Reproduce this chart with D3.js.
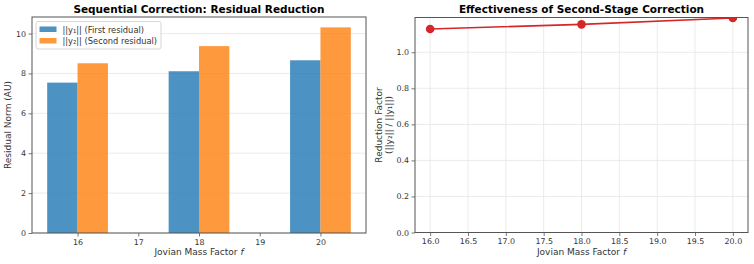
<!DOCTYPE html>
<html>
<head>
<meta charset="utf-8">
<script src="https://cdn.jsdelivr.net/npm/d3@7"></script>
<style>
body{margin:0;background:#fff;}
svg{font-family:"DejaVu Sans",sans-serif;}
</style>
</head>
<body>
<svg id="c" width="754" height="264"></svg>
<script>
const massFactors = [16, 18, 20];
const firstResidual = [7.54, 8.11, 8.66];
const secondResidual = [8.51, 9.37, 10.31];
const reductionFactor = [1.129, 1.155, 1.190];
const leftYTicks = [0, 2, 4, 6, 8, 10];
const leftXTicks = [16, 17, 18, 19, 20];
const rightYTicks = [0, 0.2, 0.4, 0.6, 0.8, 1.0];
const rightXTicks = [16, 16.5, 17, 17.5, 18, 18.5, 19, 19.5, 20];
const legendLabels = ["||y\u2081|| (First residual)", "||y\u2082|| (Second residual)"];

const svg = d3.select("#c");
const blue = "#1f77b4", orange = "#ff7f0e", red = "#d62728";
const spine = "#555", tickCol = "#333", gridCol = "#e6e6e6";
const tickFs = 7.9, labelFs = 9, titleFs = 10.5, legendFs = 8.3;

// ---------- Left chart ----------
const L = {x0: 32, x1: 366, y0: 17, y1: 233};
const xL = d3.scaleLinear().domain([15.25, 20.75]).range([L.x0, L.x1]);
const yL = d3.scaleLinear().domain([0, 10.83]).range([L.y1, L.y0]);
const gL = svg.append("g");

gL.append("g").selectAll("line").data(leftYTicks).join("line")
  .attr("x1", L.x0).attr("x2", L.x1)
  .attr("y1", d => yL(d)).attr("y2", d => yL(d))
  .attr("stroke", gridCol).attr("stroke-width", 0.8);

const barW = 0.5;
gL.append("g").selectAll("rect").data(massFactors).join("rect")
  .attr("x", d => xL(d - barW)).attr("width", (d) => xL(d) - xL(d - barW))
  .attr("y", (d, i) => yL(firstResidual[i])).attr("height", (d, i) => yL(0) - yL(firstResidual[i]))
  .attr("fill", blue).attr("fill-opacity", 0.8);
gL.append("g").selectAll("rect").data(massFactors).join("rect")
  .attr("x", d => xL(d)).attr("width", (d) => xL(d + barW) - xL(d))
  .attr("y", (d, i) => yL(secondResidual[i])).attr("height", (d, i) => yL(0) - yL(secondResidual[i]))
  .attr("fill", orange).attr("fill-opacity", 0.8);

function styleAxis(g) {
  g.selectAll(".domain").remove();
  g.selectAll(".tick line").attr("stroke", spine).attr("stroke-width", 0.8);
  g.selectAll(".tick text").attr("fill", tickCol).attr("font-size", tickFs).attr("font-family", "DejaVu Sans");
}
const axLX = gL.append("g").attr("transform", `translate(0,${L.y1})`)
  .call(d3.axisBottom(xL).tickValues(leftXTicks).tickFormat(d3.format("d")).tickSize(3.5).tickPadding(2.5));
styleAxis(axLX);
const axLY = gL.append("g").attr("transform", `translate(${L.x0},0)`)
  .call(d3.axisLeft(yL).tickValues(leftYTicks).tickFormat(d3.format("d")).tickSize(3.5).tickPadding(2.5));
styleAxis(axLY);

gL.append("rect").attr("x", L.x0).attr("y", L.y0).attr("width", L.x1 - L.x0).attr("height", L.y1 - L.y0)
  .attr("fill", "none").attr("stroke", spine).attr("stroke-width", 1);

gL.append("text").attr("x", (L.x0 + L.x1) / 2).attr("y", 13).attr("text-anchor", "middle")
  .attr("font-size", titleFs).attr("font-weight", "bold").attr("fill", "#000")
  .text("Sequential Correction: Residual Reduction");
const xlabL = gL.append("text").attr("x", (L.x0 + L.x1) / 2).attr("y", 255).attr("text-anchor", "middle")
  .attr("font-size", labelFs).attr("fill", tickCol);
xlabL.append("tspan").text("Jovian Mass Factor ");
xlabL.append("tspan").attr("font-style", "italic").text("f");
gL.append("text").attr("transform", `translate(11,${(L.y0 + L.y1) / 2}) rotate(-90)`).attr("text-anchor", "middle")
  .attr("font-size", labelFs).attr("fill", tickCol).text("Residual Norm (AU)");

// legend
const lg = gL.append("g");
lg.append("rect").attr("x", 36).attr("y", 21.5).attr("width", 125).attr("height", 27.5).attr("rx", 2)
  .attr("fill", "#fff").attr("fill-opacity", 0.8).attr("stroke", "#ccc").attr("stroke-width", 0.8);
[blue, orange].forEach((c, i) => {
  lg.append("rect").attr("x", 39.5).attr("y", 26.5 + i * 11.5).attr("width", 17).attr("height", 5.5)
    .attr("fill", c).attr("fill-opacity", 0.8);
  lg.append("text").attr("x", 62.5).attr("y", 32.5 + i * 11.5).attr("font-size", legendFs).attr("fill", tickCol)
    .text(legendLabels[i]);
});

// ---------- Right chart ----------
const R = {x0: 415, x1: 748, y0: 17.5, y1: 232.5};
const xR = d3.scaleLinear().domain([15.8, 20.2]).range([R.x0, R.x1]);
const yR = d3.scaleLinear().domain([0, 1.193]).range([R.y1, R.y0]);
const gR = svg.append("g");

gR.append("g").selectAll("line").data(rightYTicks).join("line")
  .attr("x1", R.x0).attr("x2", R.x1).attr("y1", d => yR(d)).attr("y2", d => yR(d))
  .attr("stroke", gridCol).attr("stroke-width", 0.8);
gR.append("g").selectAll("line").data(rightXTicks).join("line")
  .attr("x1", d => xR(d)).attr("x2", d => xR(d)).attr("y1", R.y0).attr("y2", R.y1)
  .attr("stroke", gridCol).attr("stroke-width", 0.8);

const axRX = gR.append("g").attr("transform", `translate(0,${R.y1})`)
  .call(d3.axisBottom(xR).tickValues(rightXTicks).tickFormat(d3.format(".1f")).tickSize(3.5).tickPadding(2.5));
styleAxis(axRX);
const axRY = gR.append("g").attr("transform", `translate(${R.x0},0)`)
  .call(d3.axisLeft(yR).tickValues(rightYTicks).tickFormat(d3.format(".1f")).tickSize(3.5).tickPadding(2.5));
styleAxis(axRY);

const clip = svg.append("defs").append("clipPath").attr("id", "clipR");
clip.append("rect").attr("x", R.x0).attr("y", R.y0).attr("width", R.x1 - R.x0).attr("height", R.y1 - R.y0);

const pts = massFactors.map((m, i) => [m, reductionFactor[i]]);
const gData = gR.append("g").attr("clip-path", "url(#clipR)");
gData.append("path").datum(pts)
  .attr("d", d3.line().x(d => xR(d[0])).y(d => yR(d[1])))
  .attr("fill", "none").attr("stroke", red).attr("stroke-width", 1.6);
gData.selectAll("circle").data(pts).join("circle")
  .attr("cx", d => xR(d[0])).attr("cy", d => yR(d[1])).attr("r", 4.3).attr("fill", red);

gR.append("rect").attr("x", R.x0).attr("y", R.y0).attr("width", R.x1 - R.x0).attr("height", R.y1 - R.y0)
  .attr("fill", "none").attr("stroke", spine).attr("stroke-width", 1);

gR.append("text").attr("x", (R.x0 + R.x1) / 2).attr("y", 13).attr("text-anchor", "middle")
  .attr("font-size", titleFs).attr("font-weight", "bold").attr("fill", "#000")
  .text("Effectiveness of Second-Stage Correction");
const xlabR = gR.append("text").attr("x", (R.x0 + R.x1) / 2).attr("y", 255).attr("text-anchor", "middle")
  .attr("font-size", labelFs).attr("fill", tickCol);
xlabR.append("tspan").text("Jovian Mass Factor ");
xlabR.append("tspan").attr("font-style", "italic").text("f");
const ylabR = gR.append("text").attr("transform", `translate(382,${(R.y0 + R.y1) / 2}) rotate(-90)`)
  .attr("text-anchor", "middle").attr("font-size", labelFs).attr("fill", tickCol);
ylabR.append("tspan").attr("x", 0).attr("dy", 0).text("Reduction Factor");
ylabR.append("tspan").attr("x", 0).attr("dy", 9.5).text("(||y\u2082|| / ||y\u2081||)");
</script>
</body>
</html>
